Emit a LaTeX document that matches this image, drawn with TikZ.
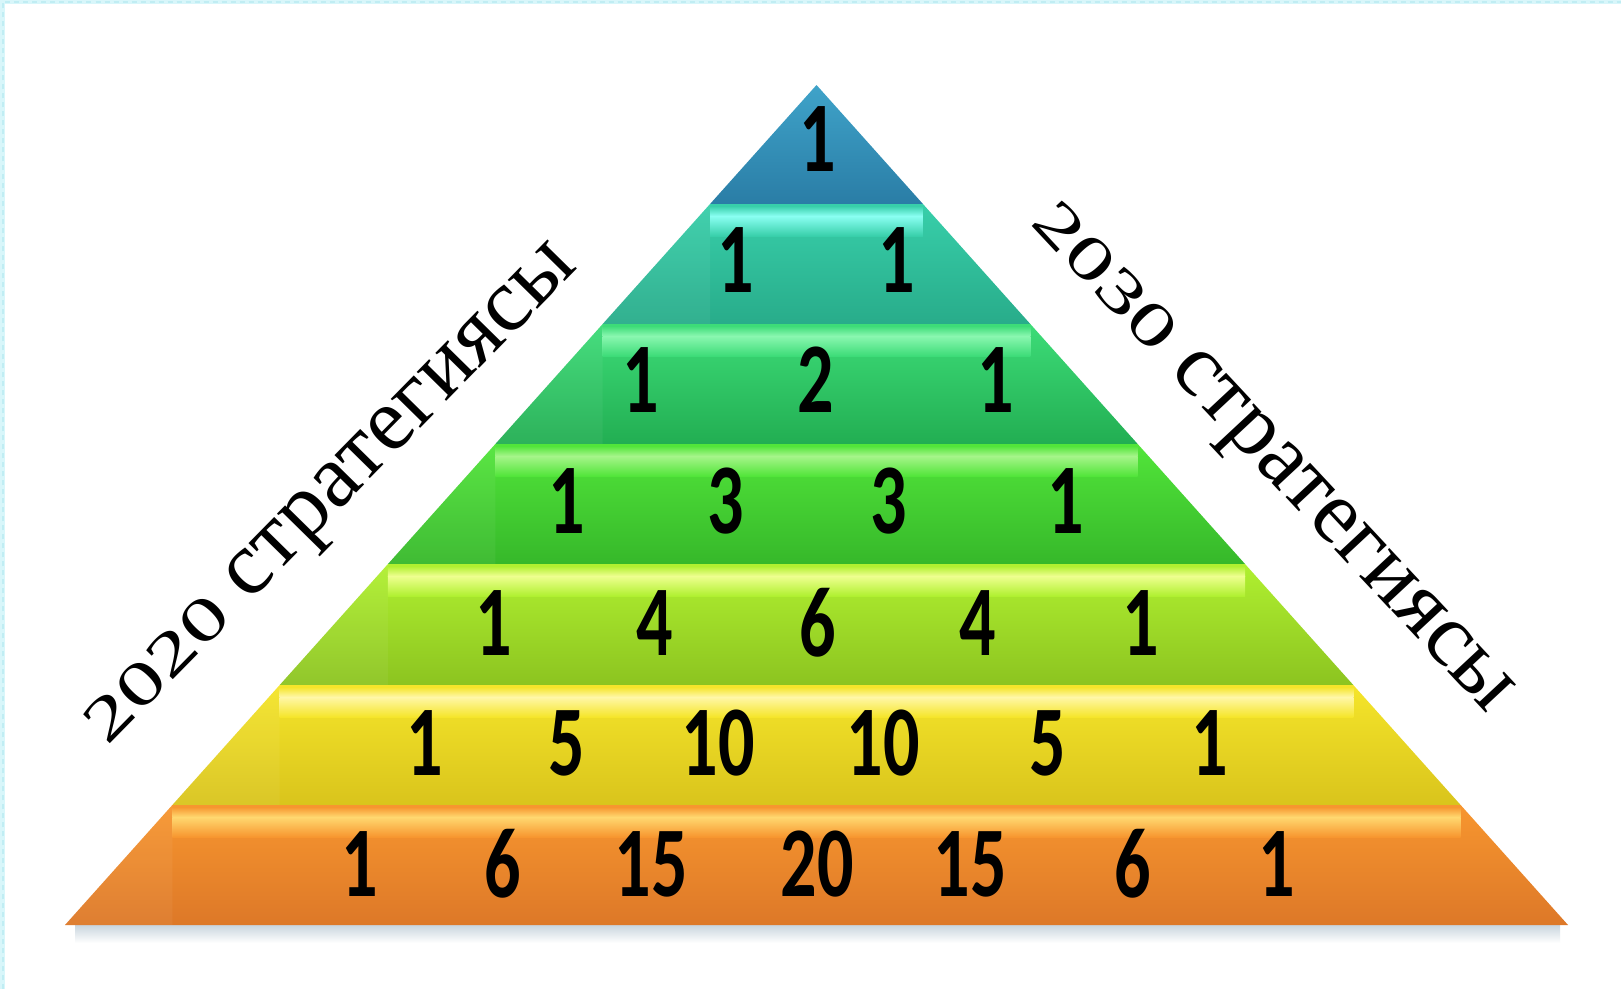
\documentclass[tikz,border=0pt]{standalone}
\usepackage{fontspec}
\usepackage{graphicx}
\setmainfont{Liberation Serif}
\newfontfamily\numfont{Carlito}
\definecolor{bordc}{HTML}{D8F6FA}
\definecolor{bordd}{HTML}{C0EDF3}
\definecolor{shadc}{HTML}{C9D5DE}
\definecolor{Lat}{HTML}{3FA3C9}\definecolor{Lab}{HTML}{2A7DA6}\definecolor{Lah}{HTML}{5CB8DA}
\definecolor{Lbt}{HTML}{38CFAA}\definecolor{Lbb}{HTML}{28AC8A}\definecolor{Lbh}{HTML}{8AFFF2}
\definecolor{Lct}{HTML}{3DDC78}\definecolor{Lcb}{HTML}{22AE52}\definecolor{Lch}{HTML}{8AF7B0}
\definecolor{Ldt}{HTML}{52E53A}\definecolor{Ldb}{HTML}{36B82A}\definecolor{Ldh}{HTML}{A6F58A}
\definecolor{Let}{HTML}{B0F030}\definecolor{Leb}{HTML}{8CC420}\definecolor{Leh}{HTML}{EEFF90}
\definecolor{Lft}{HTML}{F5E52A}\definecolor{Lfb}{HTML}{D9C41C}\definecolor{Lfh}{HTML}{FFF7A8}
\definecolor{Lgt}{HTML}{F7962F}\definecolor{Lgb}{HTML}{DD7828}\definecolor{Lgh}{HTML}{FFD870}
\newcommand\oldsty[1]{\scalebox{1}[0.68]{#1}}
\begin{document}
\begin{tikzpicture}[x=1pt,y=-1pt,
  num/.style={inner sep=0pt, xscale=0.72, font=\numfont\bfseries\fontsize{100}{100}\selectfont, text=black},
  lab/.style={inner sep=0pt, font=\fontsize{90}{90}\selectfont, text=black}]
\useasboundingbox (0,0) rectangle (1621,989);
\fill[white] (0,0) rectangle (1621,989);
% frame edge
\fill[bordc] (0,0) rectangle (5,989);
\fill[bordc] (0,0) rectangle (1621,4);
\draw[bordd, line width=2pt, dash pattern=on 5pt off 4pt] (2.5,989) -- (2.5,2) -- (1621,2);
% shadow under the base
\shade[top color=shadc, bottom color=white] (75,925) rectangle (1560,943);
% layers
\foreach \yt/\yb/\c in {85/204/La,204/324/Lb,324/444/Lc,444/564/Ld,564/685/Le,685/805/Lf,805/925/Lg}{
  \pgfmathsetmacro\wt{(\yt-85)*0.89464}
  \pgfmathsetmacro\wb{(\yb-85)*0.89464}
  \shade[top color=\c t, bottom color=\c b]
    (816.5-\wt,\yt) -- (816.5+\wt,\yt) -- (816.5+\wb,\yb) -- (816.5-\wb,\yb) -- cycle;
  \ifdim\wt pt>1pt
    \shade[top color=\c t, bottom color=\c h] (816.5-\wt,\yt+2) rectangle (816.5+\wt,\yt+12);
    \shade[top color=\c h, bottom color=\c t] (816.5-\wt,\yt+12) rectangle (816.5+\wt,\yt+32);
    \fill[white, opacity=0.05] (816.5-\wt,\yt) -- (816.5-\wt,\yb) -- (816.5-\wb,\yb) -- cycle;
  \fi
}
% numbers
\node[num] (a1) at (818,139) {1};
\node[num] (b1) at (736,260) {1};
\node[num] (b2) at (897,260) {1};
\node[num] (c1) at (641,380) {1};
\node[num] (c2) at (816,380) {2};
\node[num] (c3) at (996,380) {1};
\node[num] (d1) at (567,501) {1};
\node[num] (d2) at (726,501) {3};
\node[num] (d3) at (889,501) {3};
\node[num] (d4) at (1066,501) {1};
\node[num] (e1) at (494,623) {1};
\node[num] (e2) at (655,623) {4};
\node[num] (e3) at (818,623) {6};
\node[num] (e4) at (978,623) {4};
\node[num] (e5) at (1141,623) {1};
\node[num] (f1) at (425,743) {1};
\node[num] (f2) at (567,743) {5};
\node[num] (f3) at (718,743) {10};
\node[num] (f4) at (883,743) {10};
\node[num] (f5) at (1048,743) {5};
\node[num] (f6) at (1210,743) {1};
\node[num] (g1) at (360,864) {1};
\node[num] (g2) at (503,864) {6};
\node[num] (g3) at (651,864) {15};
\node[num] (g4) at (817,864) {20};
\node[num] (g5) at (970,864) {15};
\node[num] (g6) at (1133,864) {6};
\node[num] (g7) at (1277,864) {1};
% side labels
\node[lab, rotate=45.5, anchor=base] (left) at (343,507) {\oldsty{2020} стратегиясы};
\node[lab, rotate=-47, anchor=base] (right) at (1259,469) {\oldsty{2030} стратегиясы};
\end{tikzpicture}
\end{document}
